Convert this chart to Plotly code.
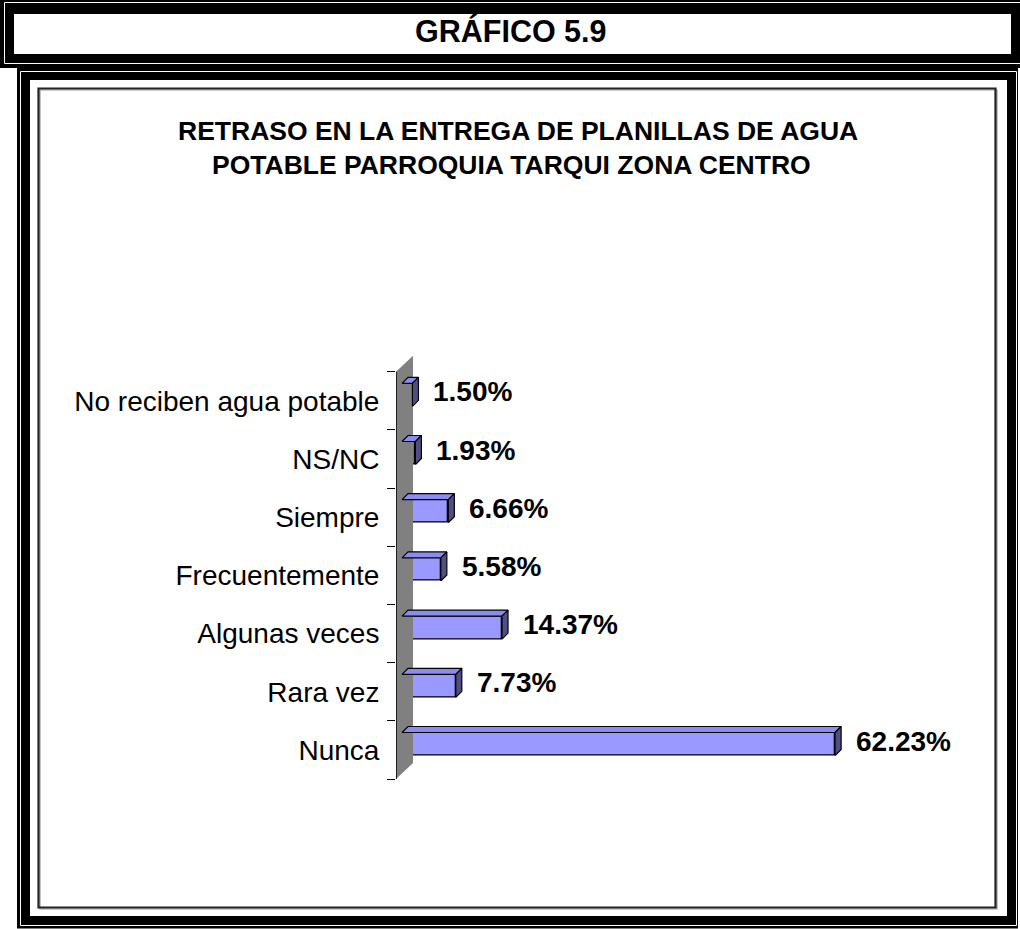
import plotly.graph_objects as go

# ---------------- data ----------------
categories = ["Nunca", "Rara vez", "Algunas veces", "Frecuentemente",
              "Siempre", "NS/NC", "No reciben agua potable"]
values = [62.23, 7.73, 14.37, 5.58, 6.66, 1.93, 1.50]
value_labels = ["62.23%", "7.73%", "14.37%", "5.58%", "6.66%", "1.93%", "1.50%"]
header_text = "GRÁFICO 5.9"
title_lines = ["RETRASO EN LA ENTREGA DE PLANILLAS DE AGUA",
               "POTABLE PARROQUIA TARQUI ZONA CENTRO"]

# ---------------- geometry ----------------
W, H = 1020, 929
X0_PX = 396.0          # pixel of value 0
PX_PER_X = 6.96        # pixels per percent
Y0_PX = 750.0          # pixel of first category centre
PX_PER_Y = 58.2        # pixels per category
XR_PX = 990.0
YRANGE = [-0.8, 7.0]

ux = 1.0 / PX_PER_X
uy = 1.0 / PX_PER_Y

def ypx(v):
    return Y0_PX - PX_PER_Y * v

x_dom = [X0_PX / W, XR_PX / W]
y_dom = [1 - ypx(YRANGE[0]) / H, 1 - ypx(YRANGE[1]) / H]
x_range = [0, (XR_PX - X0_PX) * ux]

FONT = "Liberation Sans, Arial, Helvetica, sans-serif"
FRONT = "#9999FF"
TOP = "#8C8CF0"
SIDE = "#4F4F86"

off = 6.0       # front-face offset in px
depth = 6.0     # bar depth in px
half_h = 11.5   # half height of bar front face in px

fig = go.Figure()

# side wall (gray)
wx = 17 * ux
wy = 16 * uy
fig.add_trace(go.Scatter(
    x=[0, wx, wx, 0, 0],
    y=[-0.5, -0.5 + wy, 6.5 + wy, 6.5, -0.5],
    mode="lines", fill="toself", fillcolor="#808080",
    line=dict(width=0, color="#808080"), hoverinfo="skip", showlegend=False))

ys = list(range(len(categories)))
yc = [i + off * uy for i in ys]
xs = off * ux
dx = depth * ux
dy = depth * uy
hh = half_h * uy

# front faces
fig.add_trace(go.Bar(
    orientation="h", y=yc, x=values, base=xs, width=2 * hh,
    marker=dict(color=FRONT, line=dict(color="black", width=1.3)),
    hoverinfo="skip", showlegend=False))

top_x, top_y, side_x, side_y = [], [], [], []
for v, c in zip(values, yc):
    xe = xs + v
    top_x += [xs, xe, xe + dx, xs + dx, xs, None]
    top_y += [c + hh, c + hh, c + hh + dy, c + hh + dy, c + hh, None]
    side_x += [xe, xe, xe + dx, xe + dx, xe, None]
    side_y += [c - hh, c + hh, c + hh + dy, c - hh + dy, c - hh, None]

fig.add_trace(go.Scatter(x=top_x, y=top_y, mode="lines", fill="toself",
                         fillcolor=TOP, line=dict(color="black", width=1.2),
                         hoverinfo="skip", showlegend=False))
fig.add_trace(go.Scatter(x=side_x, y=side_y, mode="lines", fill="toself",
                         fillcolor=SIDE, line=dict(color="black", width=1.2),
                         hoverinfo="skip", showlegend=False))

# axis line
fig.add_trace(go.Scatter(x=[0, 0], y=[-0.5, 6.5], mode="lines",
                         line=dict(color="black", width=1.5),
                         hoverinfo="skip", showlegend=False))

# value labels
for v, c, t in zip(values, yc, value_labels):
    fig.add_annotation(x=xs + v + dx + 13 * ux, y=c + 3 * uy, text=t,
                       xref="x", yref="y", xanchor="left", yanchor="middle",
                       showarrow=False,
                       font=dict(family=FONT, size=28, color="black", weight="bold"))

# ---------------- frames (paper shapes) ----------------
def px(x):
    return x / W

def py(y):
    return 1 - y / H

shapes = []

def rect(x0, y0, x1, y1, fill=None, line_color=None, lw=0):
    shapes.append(dict(
        type="rect", xref="paper", yref="paper",
        x0=px(x0), x1=px(x1), y0=py(y1), y1=py(y0),
        fillcolor=fill if fill else "rgba(0,0,0,0)",
        line=dict(width=lw, color=line_color if line_color else "rgba(0,0,0,0)"),
        layer="below"))

def polyline(pts, color, lw):
    d = "M " + " L ".join(f"{px(a):.6f},{py(b):.6f}" for a, b in pts)
    shapes.append(dict(type="path", xref="paper", yref="paper", path=d,
                       line=dict(color=color, width=lw), layer="below"))

# top box
rect(0, 0, 1020, 68, fill="black")
polyline([(1020, 2.5), (4.5, 2.5), (4.5, 63.5), (1020, 63.5)], "white", 1)
rect(14, 14, 1011, 54, fill="white")
# main box
rect(17, 68, 1018, 928.5, fill="black")
rect(20.5, 71.5, 1016.5, 925.5, line_color="white", lw=1)
rect(30, 80, 1007, 916, fill="white")
# inner chart frame
rect(40, 90, 997, 909, line_color="#9a9a9a", lw=1.2)
rect(38.5, 88.5, 995.5, 907.5, line_color="#222222", lw=2.2)

# header / title
fig.add_annotation(x=px(511), y=py(31), xref="paper", yref="paper",
                   text=header_text, showarrow=False,
                   xanchor="center", yanchor="middle",
                   font=dict(family=FONT, size=30.5, color="black", weight="bold"))
fig.add_annotation(x=px(518), y=py(131), xref="paper", yref="paper",
                   text=title_lines[0], showarrow=False,
                   xanchor="center", yanchor="middle",
                   font=dict(family=FONT, size=26.5, color="black", weight="bold"))
fig.add_annotation(x=px(511), y=py(165), xref="paper", yref="paper",
                   text=title_lines[1], showarrow=False,
                   xanchor="center", yanchor="middle",
                   font=dict(family=FONT, size=26.5, color="black", weight="bold"))

fig.update_layout(
    width=W, height=H,
    margin=dict(l=0, r=0, t=0, b=0),
    paper_bgcolor="white",
    plot_bgcolor="rgba(0,0,0,0)",
    shapes=shapes,
    bargap=0,
    xaxis=dict(domain=x_dom, range=x_range, visible=False, fixedrange=True),
    yaxis=dict(domain=y_dom, range=YRANGE, showgrid=False, zeroline=False,
               showline=False, tickmode="array", tickvals=ys, ticktext=categories,
               ticks="outside", ticklen=8, tickcolor="rgba(0,0,0,0)",
               ticklabelstandoff=2,
               tickfont=dict(family=FONT, size=28, color="black"),
               minor=dict(tickmode="array", tickvals=[i - 0.5 for i in range(len(categories) + 1)],
                          ticks="outside", ticklen=8, tickwidth=1.3, tickcolor="black",
                          showgrid=False),
               fixedrange=True),
    showlegend=False,
)

fig.write_html("out.html", config={"displayModeBar": False},
               post_script="document.body.style.margin='0';document.body.style.padding='0';")
